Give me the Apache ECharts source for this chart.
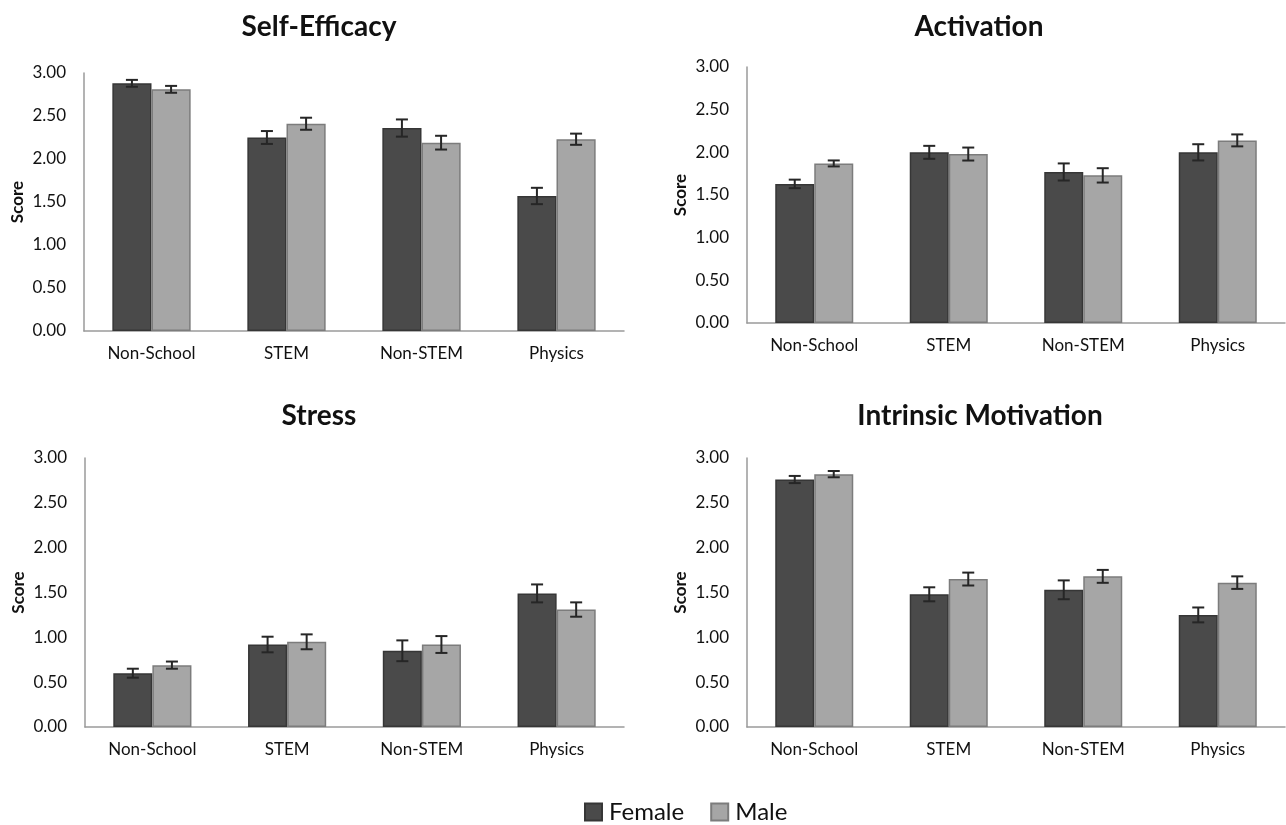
<!DOCTYPE html>
<html>
<head>
<meta charset="utf-8">
<script src="https://cdn.jsdelivr.net/npm/echarts@6/dist/echarts.min.js"></script>
<style>
  html, body { margin: 0; padding: 0; background: #fff; }
  #chart { width: 1286px; height: 825px; }
</style>
</head>
<body>
<div id="chart"></div>
<script>
// categories and tick range
const categories = ['Non-School', 'STEM', 'Non-STEM', 'Physics'];
const panelTitles = ['Self-Efficacy', 'Activation', 'Stress', 'Intrinsic Motivation'];
const seriesNames = ['Female', 'Male'];
const yMin = 0;
const yMax = 3;
const yStep = 0.5;

// mean scores
const selfEfficacyFemale = [2.88, 2.25, 2.36, 1.57];
const selfEfficacyMale = [2.81, 2.41, 2.19, 2.23];
const activationFemale = [1.63, 2.00, 1.77, 2.00];
const activationMale = [1.87, 1.98, 1.73, 2.14];
const stressFemale = [0.60, 0.92, 0.85, 1.49];
const stressMale = [0.69, 0.95, 0.92, 1.31];
const motivationFemale = [2.76, 1.48, 1.53, 1.25];
const motivationMale = [2.82, 1.65, 1.68, 1.61];

// standard errors
const selfEfficacyFemaleErr = [0.04, 0.075, 0.10, 0.095];
const selfEfficacyMaleErr = [0.04, 0.07, 0.08, 0.065];
const activationFemaleErr = [0.05, 0.076, 0.10, 0.095];
const activationMaleErr = [0.035, 0.076, 0.084, 0.07];
const stressFemaleErr = [0.05, 0.087, 0.116, 0.10];
const stressMaleErr = [0.04, 0.083, 0.094, 0.08];
const motivationFemaleErr = [0.04, 0.078, 0.105, 0.083];
const motivationMaleErr = [0.035, 0.072, 0.072, 0.07];

const panels = [
  { female: selfEfficacyFemale, male: selfEfficacyMale, fErr: selfEfficacyFemaleErr, mErr: selfEfficacyMaleErr },
  { female: activationFemale, male: activationMale, fErr: activationFemaleErr, mErr: activationMaleErr },
  { female: stressFemale, male: stressMale, fErr: stressFemaleErr, mErr: stressMaleErr },
  { female: motivationFemale, male: motivationMale, fErr: motivationFemaleErr, mErr: motivationMaleErr },
];

const FONT = 'Lato';
const BAR_FRAC = 0.29;
const colors = {
  female: '#4a4a4a', femaleBorder: '#363636',
  male: '#a6a6a6', maleBorder: '#7c7c7c',
  axis: '#9a9a9a', text: '#111', err: '#262626',
};

const grids = [
  { left: 84, right: 662, top: 73, bottom: 494 },
  { left: 747, right: 1, top: 67, bottom: 502 },
  { left: 85, right: 662, top: 458, bottom: 98 },
  { left: 747, right: 1, top: 458, bottom: 98 },
];
const titlePos = [
  { left: 314, top: 8 },
  { left: 974, top: 8 },
  { left: 314, top: 397 },
  { left: 975, top: 397 },
];

function renderError(params, api) {
  const idx = api.value(0);
  const mean = api.value(1);
  const err = api.value(2);
  const side = api.value(3);
  const bandW = api.size([1, 0])[0];
  const bw = bandW * BAR_FRAC;
  const x = api.coord([idx, mean])[0] + (side === 0 ? -bw / 2 : bw / 2);
  const yHi = api.coord([idx, mean + err])[1];
  const yLo = api.coord([idx, mean - err])[1];
  const half = 6;
  const style = { stroke: colors.err, lineWidth: 2 };
  return {
    type: 'group',
    children: [
      { type: 'line', shape: { x1: x, y1: yHi, x2: x, y2: yLo }, style },
      { type: 'line', shape: { x1: x - half, y1: yHi, x2: x + half, y2: yHi }, style },
      { type: 'line', shape: { x1: x - half, y1: yLo, x2: x + half, y2: yLo }, style },
    ],
  };
}

const chart = echarts.init(document.getElementById('chart'));

const xAxes = [];
const yAxes = [];
const series = [];
panels.forEach((p, k) => {
  xAxes.push({
    type: 'category',
    gridIndex: k,
    data: categories,
    axisTick: { show: false },
    axisLine: { lineStyle: { color: colors.axis, width: 1.5 } },
    axisLabel: { color: colors.text, fontFamily: FONT, fontSize: 17, margin: 14 },
  });
  yAxes.push({
    type: 'value',
    gridIndex: k,
    min: yMin,
    max: yMax,
    interval: yStep,
    name: 'Score',
    nameLocation: 'middle',
    nameGap: 58,
    nameTextStyle: { color: colors.text, fontFamily: FONT, fontSize: 17, fontWeight: 'bold' },
    splitLine: { show: false },
    axisTick: { show: false },
    axisLine: { show: true, lineStyle: { color: colors.axis, width: 1.5 } },
    axisLabel: {
      color: colors.text, fontFamily: FONT, fontSize: 17, margin: 18,
      formatter: v => v.toFixed(2),
    },
  });
  series.push({
    name: seriesNames[0],
    type: 'bar',
    xAxisIndex: k,
    yAxisIndex: k,
    data: p.female,
    barGap: 0,
    barCategoryGap: '42%',
    itemStyle: { color: colors.female, borderColor: colors.femaleBorder, borderWidth: 1.5 },
    animation: false,
  });
  series.push({
    name: seriesNames[1],
    type: 'bar',
    xAxisIndex: k,
    yAxisIndex: k,
    data: p.male,
    barGap: 0,
    barCategoryGap: '42%',
    itemStyle: { color: colors.male, borderColor: colors.maleBorder, borderWidth: 1.5 },
    animation: false,
  });
  const errData = [];
  categories.forEach((c, i) => {
    errData.push([i, p.female[i], p.fErr[i], 0]);
    errData.push([i, p.male[i], p.mErr[i], 1]);
  });
  series.push({
    type: 'custom',
    xAxisIndex: k,
    yAxisIndex: k,
    data: errData,
    encode: { x: 0, y: 1 },
    renderItem: renderError,
    z: 5,
    silent: true,
    animation: false,
  });
});

chart.setOption({
  backgroundColor: '#fff',
  animation: false,
  title: panelTitles.map((t, k) => ({
    text: t,
    left: titlePos[k].left,
    top: titlePos[k].top,
    textAlign: 'center',
    textStyle: { fontFamily: FONT, fontSize: 28, fontWeight: 'bold', color: '#111' },
  })),
  legend: {
    data: seriesNames,
    left: 579,
    top: 795,
    icon: 'rect',
    itemWidth: 17,
    itemHeight: 17,
    itemGap: 26,
    textStyle: { fontFamily: FONT, fontSize: 24, color: '#111', padding: [0, 0, 0, 2] },
  },
  grid: grids,
  xAxis: xAxes,
  yAxis: yAxes,
  series: series,
});
</script>
</body>
</html>
